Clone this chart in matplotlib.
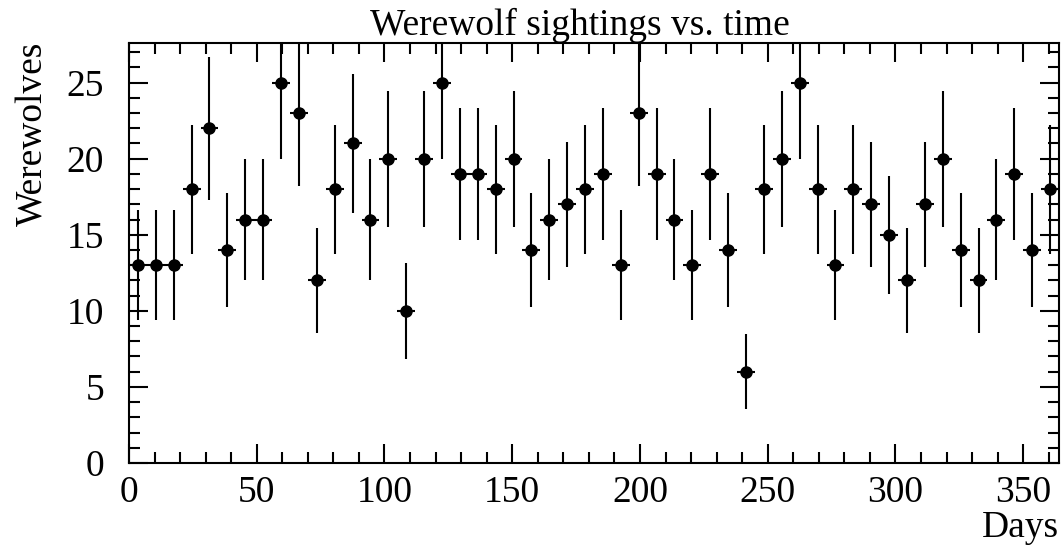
import numpy as np
import matplotlib
matplotlib.use("Agg")
import matplotlib.pyplot as plt
from matplotlib.ticker import MultipleLocator

# weekly werewolf counts, 52 bins of 7 days
bin_width = 7
counts = [13, 13, 13, 18, 22, 14, 16, 16, 25, 23, 12, 18, 21, 16, 20, 10,
          20, 25, 19, 19, 18, 20, 14, 16, 17, 18, 19, 13, 23, 19, 16, 13,
          19, 14, 6, 18, 20, 25, 18, 13, 18, 17, 15, 12, 17, 20, 14, 12,
          16, 19, 14, 18]

title = "Werewolf sightings vs. time"
xlabel = "Days"
ylabel = "Werewolves"

counts = np.array(counts, dtype=float)
centers = bin_width * (np.arange(len(counts)) + 0.5)
errors = np.sqrt(counts)

plt.rcParams['font.family'] = ['Liberation Serif', 'DejaVu Serif']
fs = 27

fig = plt.figure(figsize=(10.64, 5.48), dpi=100)
ax = fig.add_axes([129/1064, 1 - 463/548, 930/1064, 420/548])

ax.errorbar(centers, counts, yerr=errors, xerr=bin_width/2, fmt='o',
            color='black', markersize=8, elinewidth=1.5, capsize=0)

ax.set_xlim(0, bin_width * len(counts))
ax.set_ylim(0, 27.6)

ax.xaxis.set_major_locator(MultipleLocator(50))
ax.xaxis.set_minor_locator(MultipleLocator(10))
ax.yaxis.set_major_locator(MultipleLocator(5))
ax.yaxis.set_minor_locator(MultipleLocator(1))
ax.tick_params(which='both', direction='in', top=True, right=True, width=1.5,
               colors='black')
ax.tick_params(which='major', length=13.5)
ax.tick_params(which='minor', length=8)
ax.tick_params(axis='y', which='major', pad=18, labelsize=fs)
ax.tick_params(axis='x', which='major', pad=9, labelsize=fs)
for s in ax.spines.values():
    s.set_linewidth(1.5)

fig.text(580/1064, 1 - 35/548, title, ha='center', va='baseline', fontsize=fs)
fig.text(1059/1064, 1 - 537/548, xlabel, ha='right', va='baseline', fontsize=fs)
fig.text(33/1064, 1 - 42/548, ylabel, rotation=90, ha='center', va='top',
         fontsize=fs)

fig.savefig("out.png", dpi=100)
